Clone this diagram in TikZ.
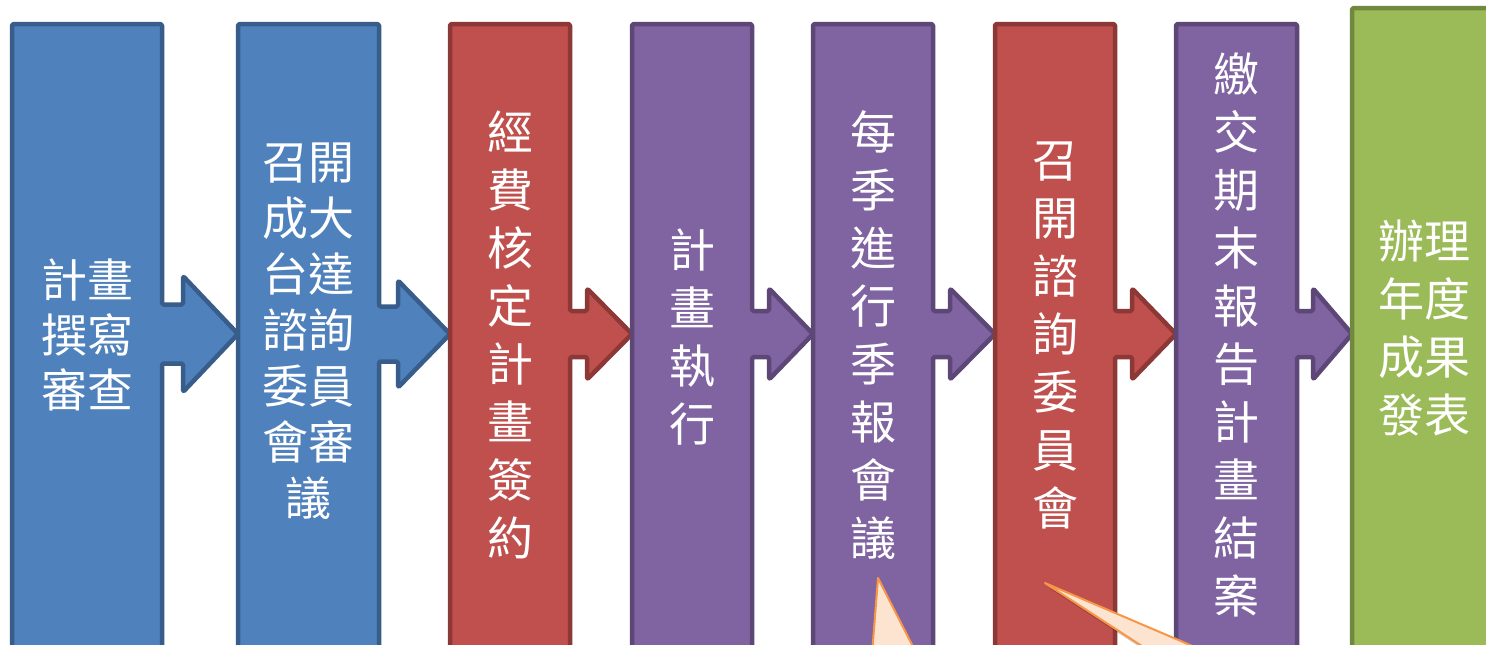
\documentclass[tikz,border=0pt]{standalone}
\usepackage{fontspec}
\newfontfamily\cjk{Noto Sans CJK TC}
\definecolor{bfill}{HTML}{4F81BD}\definecolor{bline}{HTML}{385D8A}
\definecolor{rfill}{HTML}{C0504D}\definecolor{rline}{HTML}{8C3836}
\definecolor{pfill}{HTML}{8064A2}\definecolor{pline}{HTML}{5C4776}
\definecolor{gfill}{HTML}{9BBB59}\definecolor{gline}{HTML}{71893F}
\definecolor{cfill}{HTML}{FDE4D0}\definecolor{cline}{HTML}{F79646}
% L R hb tip sh hh fill line
\newcommand\flowcol[8]{%
  \draw[colshape, fill=#7, draw=#8] (#1,700) -- (#1,24) -- (#2,24) -- (#2,{334-#5}) -- (#3,{334-#5}) -- (#3,{334-#6}) -- (#4,334) -- (#3,{334+#6}) -- (#3,{334+#5}) -- (#2,{334+#5}) -- (#2,700) -- cycle;}
\begin{document}
\begin{tikzpicture}[x=1pt,y=-1pt,
  colshape/.style={line width=4.5pt, line join=round, rounded corners=1.5pt},
  coltext/.style={text=white, font=\cjk\fontsize{46}{58}\selectfont, align=center, inner sep=0pt},
  callout/.style={fill=cfill, draw=cline, line width=2pt, line join=round}]
\useasboundingbox (0,0) rectangle (1486,645);
\clip (0,0) rectangle (1486,645);
\fill[white] (0,0) rectangle (1486,645);
\flowcol{12}{162}{183}{238}{29.5}{58}{bfill}{bline}
\flowcol{238}{379}{398}{450}{27.5}{53.5}{bfill}{bline}
\flowcol{450}{570}{587}{632}{23}{45.5}{rfill}{rline}
\flowcol{632}{752}{769}{813}{23}{45.5}{pfill}{pline}
\flowcol{813}{933}{950}{995}{23}{45.5}{pfill}{pline}
\flowcol{995}{1115}{1132}{1176}{23}{45.5}{rfill}{rline}
\flowcol{1176}{1297}{1313}{1352}{23}{45.5}{pfill}{pline}
\draw[colshape, fill=gfill, draw=gline] (1352,700) -- (1352,8) -- (1520,8) -- (1520,700) -- cycle;
\node[coltext, font=\cjk\fontsize{46}{55}\selectfont] (t1) at (87,335) {計畫\\撰寫\\審查};
\node[coltext, font=\cjk\fontsize{46}{56}\selectfont] (t2) at (308.5,331) {召開\\成大\\台達\\諮詢\\委員\\會審\\議};
\node[coltext] (t3) at (510,335) {經\\費\\核\\定\\計\\畫\\簽\\約};
\node[coltext] (t4) at (692,337) {計\\畫\\執\\行};
\node[coltext] (t5) at (873,335) {每\\季\\進\\行\\季\\報\\會\\議};
\node[coltext] (t6) at (1055,335) {召\\開\\諮\\詢\\委\\員\\會};
\node[coltext] (t7) at (1236.5,335) {繳\\交\\期\\末\\報\\告\\計\\畫\\結\\案};
\node[coltext] (t8) at (1424,328) {辦理\\年度\\成果\\發表};
\fill[black, opacity=0.18] (1049,588) -- (1276,685) -- (1198,685) -- cycle;
\draw[callout] (878,578) -- (930,680) -- (870,680) -- cycle;
\draw[callout] (1045,583) -- (1272,680) -- (1194,680) -- cycle;
\end{tikzpicture}
\end{document}
